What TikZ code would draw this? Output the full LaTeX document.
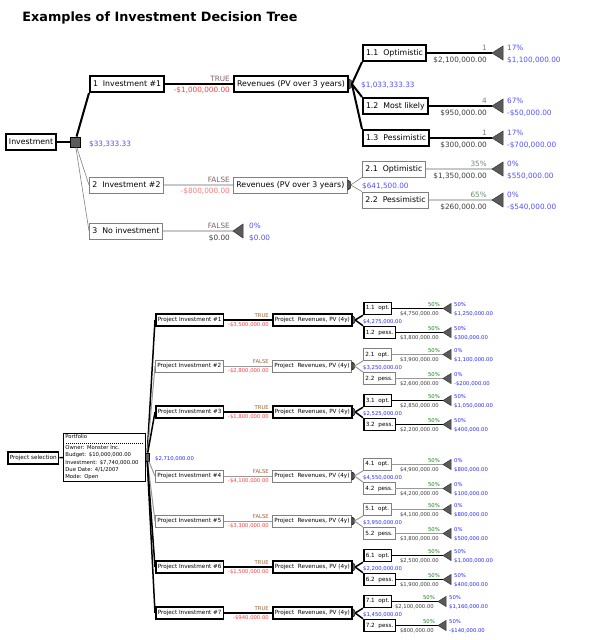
\documentclass[tikz,border=0pt]{standalone}
\usepackage{fontspec}
\setmainfont{DejaVu Sans}
\usetikzlibrary{calc}
\definecolor{vblue}{RGB}{80,80,255}
\definecolor{bblue}{RGB}{40,40,255}
\definecolor{vred}{RGB}{255,60,60}
\definecolor{tbrown}{RGB}{128,96,96}
\definecolor{bbrown}{RGB}{150,100,50}
\definecolor{pgreen}{RGB}{110,140,110}
\definecolor{bgreen}{RGB}{20,130,20}
\definecolor{dtext}{RGB}{60,60,60}
\definecolor{dgray}{RGB}{90,90,90}
\definecolor{lgray}{RGB}{200,200,200}
\definecolor{mgray}{RGB}{128,128,128}
\newcommand\chancenode[2]{\filldraw[fill=dgray,draw=black,line width=0.4pt] ($(#1.east)+(0,-#2)$) .. controls ($(#1.east)+(#2*0.9,-#2)$) and ($(#1.east)+(#2*0.9,#2)$) .. ($(#1.east)+(0,#2)$) -- cycle;}
\begin{document}
\begin{tikzpicture}[x=1pt,y=-1pt,
 tf/.style={font=\fontsize{7.3}{8}\selectfont},
 tbf/.style={font=\fontsize{7.8}{8}\selectfont},
 bf/.style={font=\fontsize{5.3}{6}\selectfont},
 bbf/.style={font=\fontsize{5.7}{6}\selectfont},
 boxbase/.style={fill=white, anchor=west, inner xsep=3pt, inner ysep=0pt, minimum height=16pt, tbf},
 boxT/.style={boxbase, draw=black, line width=2pt},
 boxF/.style={boxbase, draw=mgray, line width=0.8pt},
 lnT/.style={draw=black, line width=2pt},
 lnF/.style={draw=lgray, line width=2pt},
 conT/.style={lnT},
 conF/.style={draw=mgray, line width=0.6pt},
 lab/.style={inner sep=0pt, tf},
 le/.style={lab, anchor=base east},
 lw/.style={lab, anchor=base west},
 tri/.style={fill=dgray, draw=black!80, line width=0.5pt, line join=miter},
 dsq/.style={draw=black, fill=dgray, inner sep=0pt, line width=0.8pt},
 bboxbase/.style={fill=white, anchor=west, inner xsep=2pt, inner ysep=0pt, minimum height=12pt, bbf},
 bboxTRUE/.style={bboxbase, draw=black, line width=1.5pt},
 bboxFALSE/.style={bboxbase, draw=mgray, line width=0.8pt},
 blnTRUE/.style={draw=black, line width=1.5pt},
 blnFALSE/.style={draw=mgray!80, line width=1pt},
 ble/.style={inner sep=0pt, bf, anchor=base east},
 blw/.style={inner sep=0pt, bf, anchor=base west},
]
\useasboundingbox (0,0) rectangle (595,640);
\node[font=\bfseries\fontsize{12.8}{14}\selectfont, inner sep=0pt] (title) at (160,18) {Examples of Investment Decision Tree};

% ---------- top tree ----------
\node[boxT] (inv) at (5,142) {Investment};
\node[dsq, minimum size=10pt] (d1) at (75,142) {};
\draw[lnT] (inv) -- (d1);
\node[boxT] (i1) at (89,84) {1\ \ Investment \#1};
\node[boxF] (i2) at (89,185) {2\ \ Investment \#2};
\node[boxF] (i3) at (89,231) {3\ \ No investment};
\draw[lnT] (d1) -- (i1.south west);
\draw[conF] (d1) -- (i2.west);
\draw[conF] (d1) -- (i3.west);
\node[lw, text=vblue] (ev0) at (89,146) {\$33,333.33};

\node[boxT] (r1) at (233,84) {Revenues (PV over 3 years)};
\node[boxF] (r2) at (233,185) {Revenues (PV over 3 years)};
\draw[lnT] (i1) -- (r1);
\draw[lnF] (i2) -- (r2);
\node[le, text=tbrown] (tf1) at (230,81) {TRUE};
\node[le, text=vred] (co1) at (230,92.5) {-\$1,000,000.00};
\node[le, text=tbrown] (tf2) at (230,182) {FALSE};
\node[le, text=vred!70] (co2) at (230,193.5) {-\$800,000.00};
\chancenode{r1}{5}
\chancenode{r2}{5}
\coordinate (c1) at ($(r1.east)+(3,0)$);
\coordinate (c2) at ($(r2.east)+(3,0)$);
\node[lw, text=vblue] (ev1) at (361,87) {\$1,033,333.33};
\node[lw, text=vblue] (ev2) at (362,188) {\$641,500.00};

\coordinate (t3) at (233,231);
\draw[lnF] (i3) -- (t3);
\filldraw[tri] (t3) -- ++(10,-7) -- ++(0,14) -- cycle;
\node[le, text=tbrown] (tf3) at (230,228) {FALSE};
\node[le, text=dtext] (co3) at (230,240) {\$0.00};
\node[lw, text=vblue] (q3) at (249,228) {0\%};
\node[lw, text=vblue] (w3) at (249,240) {\$0.00};

\foreach \n/\y/\st/\lab/\p/\pay/\rp/\val/\pa/\anc in {
 11/53/T/{1.1\ \ Optimistic}/1/{\$2,100,000.00}/17\%/{\$1,100,000.00}/1/south west,
 12/106/T/{1.2\ \ Most likely}/4/{\$950,000.00}/67\%/{-\$50,000.00}/1/north west,
 13/138/T/{1.3\ \ Pessimistic}/1/{\$300,000.00}/17\%/{-\$700,000.00}/1/north west,
 21/169/F/{2.1\ \ Optimistic}/35\%/{\$1,350,000.00}/0\%/{\$550,000.00}/2/south west,
 22/200/F/{2.2\ \ Pessimistic}/65\%/{\$260,000.00}/0\%/{-\$540,000.00}/2/north west}{
 \node[box\st] (s\n) at (362,\y) {\lab};
 \draw[con\st] (c\pa) -- (s\n.\anc);
 \coordinate (t\n) at (492,\y);
 \draw[ln\st] (s\n) -- (t\n);
 \filldraw[tri] (t\n) -- ++(11,-7) -- ++(0,14) -- cycle;
 \node[le, text=pgreen] (p\n) at (487,\y-3) {\p};
 \node[le, text=dtext] (v\n) at (487,\y+9) {\pay};
 \node[lw, text=vblue] (q\n) at (507,\y-3) {\rp};
 \node[lw, text=vblue] (w\n) at (507,\y+9) {\val};
}

% ---------- bottom tree ----------
\node[bboxTRUE] (ps) at (7,458) {Project selection};
\node[draw=black, line width=0.8pt, fill=white, anchor=north west, inner xsep=2pt, inner ysep=1.5pt, align=left, text width=78pt, font=\fontsize{5.3}{7.2}\selectfont] (pf) at (63,433) {Portfolio\\[3.6pt]Owner: Monster Inc.\\Budget: \$10,000,000.00\\Investment: \$7,740,000.00\\Due Date: 4/1/2007\\Mode: Open};
\draw[dash pattern=on 1pt off 1pt, line width=0.4pt] ($(pf.north west)+(3,10)$) -- ($(pf.north east)+(-3,10)$);
\draw[blnTRUE] (ps) -- (pf);
\node[dsq, minimum width=4pt, minimum height=8pt] (d2) at (147,457) {};
\node[blw, text=bblue] (evp) at (155,460) {\$2,710,000.00};

\foreach \i/\cy/\st/\cost/\ev in {
 1/320/TRUE/{-\$3,500,000.00}/{\$4,275,000.00},
 2/366/FALSE/{-\$2,800,000.00}/{\$3,250,000.00},
 3/412/TRUE/{-\$1,800,000.00}/{\$2,525,000.00},
 4/476/FALSE/{-\$4,100,000.00}/{\$4,550,000.00},
 5/521/FALSE/{-\$3,300,000.00}/{\$3,950,000.00},
 6/567/TRUE/{-\$1,500,000.00}/{\$2,200,000.00},
 7/613/TRUE/{-\$940,000.00}/{\$1,450,000.00}}{
 \node[bbox\st] (pi\i) at (155,\cy) {Project Investment \#\i};
 \draw[bln\st] (d2) -- (pi\i.west);
 \node[bbox\st] (pr\i) at (272,\cy) {Project\ \ Revenues, PV (4y)};
 \draw[bln\st] (pi\i) -- (pr\i);
 \node[ble, text=bbrown] (bt\i) at (269,\cy-2.5) {\st};
 \node[ble, text=vred] (bc\i) at (269,\cy+6.5) {\cost};
 \chancenode{pr\i}{4}
 \coordinate (bch\i) at ($(pr\i.east)+(2.5,0)$);
 \node[blw, text=bblue] (bev\i) at (363,\cy+3) {\ev};
}

\foreach \k/\i/\y/\st/\lab/\pay/\rp/\val/\tx/\anc in {
 11/1/308.5/TRUE/{1.1\ \ opt.}/{\$4,750,000.00}/50\%/{\$1,250,000.00}/443/south west,
 12/1/332.5/TRUE/{1.2\ \ pess.}/{\$3,800,000.00}/50\%/{\$300,000.00}/443/north west,
 21/2/354.5/FALSE/{2.1\ \ opt.}/{\$3,900,000.00}/0\%/{\$1,100,000.00}/443/south west,
 22/2/378.5/FALSE/{2.2\ \ pess.}/{\$2,600,000.00}/0\%/{-\$200,000.00}/443/north west,
 31/3/400.5/TRUE/{3.1\ \ opt.}/{\$2,850,000.00}/50\%/{\$1,050,000.00}/443/south west,
 32/3/424.5/TRUE/{3.2\ \ pess.}/{\$2,200,000.00}/50\%/{\$400,000.00}/443/north west,
 41/4/464.5/FALSE/{4.1\ \ opt.}/{\$4,900,000.00}/0\%/{\$800,000.00}/443/south west,
 42/4/488.5/FALSE/{4.2\ \ pess.}/{\$4,200,000.00}/0\%/{\$100,000.00}/443/north west,
 51/5/509.5/FALSE/{5.1\ \ opt.}/{\$4,100,000.00}/0\%/{\$800,000.00}/443/south west,
 52/5/533.5/FALSE/{5.2\ \ pess.}/{\$3,800,000.00}/0\%/{\$500,000.00}/443/north west,
 61/6/555.5/TRUE/{6.1\ \ opt.}/{\$2,500,000.00}/50\%/{\$1,000,000.00}/443/south west,
 62/6/579.5/TRUE/{6.2\ \ pess.}/{\$1,900,000.00}/50\%/{\$400,000.00}/443/north west,
 71/7/601.5/TRUE/{7.1\ \ opt.}/{\$2,100,000.00}/50\%/{\$1,160,000.00}/438/south west,
 72/7/625.5/TRUE/{7.2\ \ pess.}/{\$800,000.00}/50\%/{-\$140,000.00}/438/north west}{
 \node[bbox\st] (bs\k) at (363,\y) {\lab};
 \draw[bln\st] (bch\i) -- (bs\k.\anc);
 \coordinate (bt\k) at (\tx,\y);
 \draw[bln\st] (bs\k) -- (bt\k);
 \filldraw[tri] (bt\k) -- ++(8,-5) -- ++(0,10) -- cycle;
 \node[ble, text=bgreen] (bp\k) at (\tx-3,\y-2) {50\%};
 \node[ble, text=dtext] (bv\k) at (\tx-4,\y+6.5) {\pay};
 \node[blw, text=bblue] (bq\k) at (\tx+11,\y-2) {\rp};
 \node[blw, text=bblue] (bw\k) at (\tx+11,\y+6.5) {\val};
}
\end{tikzpicture}
\end{document}
